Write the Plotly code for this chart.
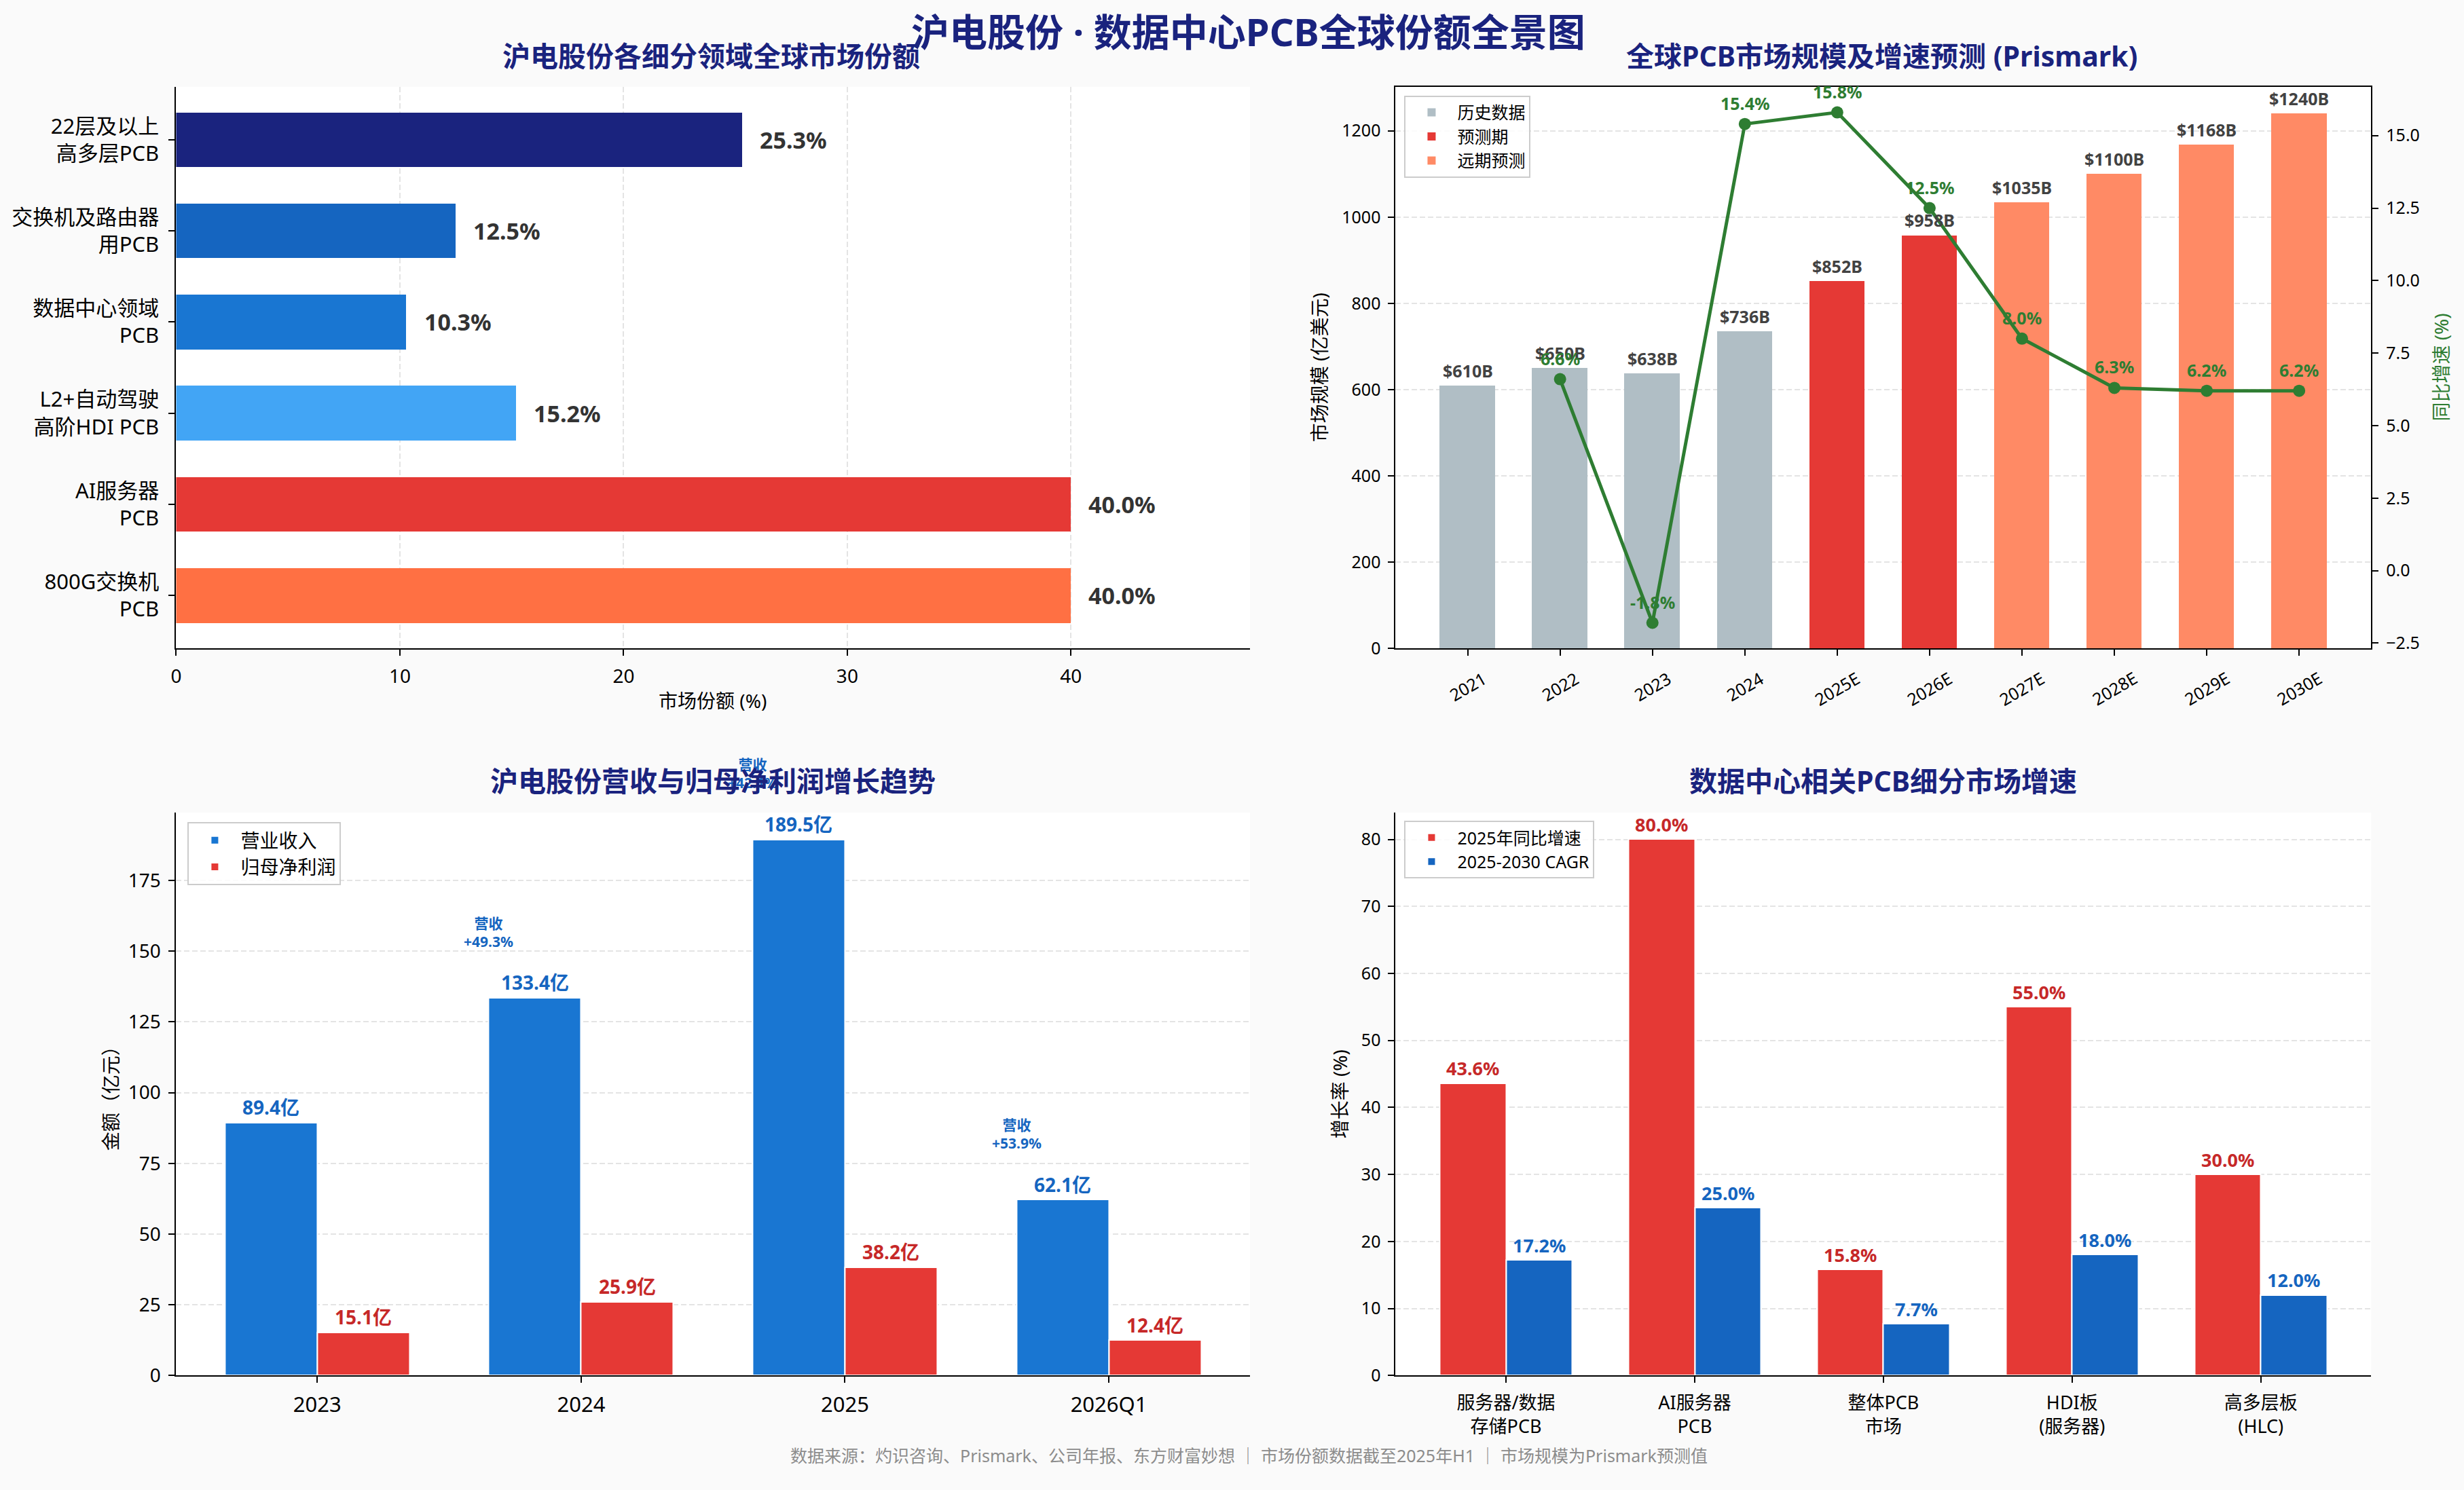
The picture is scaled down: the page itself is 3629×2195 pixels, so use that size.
import plotly.graph_objects as go

W, H = 3629, 2195
FONT = "Noto Sans, Noto Sans CJK SC, sans-serif"
NAVY = "#1A237E"
GREEN = "#2E7D32"

# ---------------- data ----------------
share_categories = ["22层及以上<br>高多层PCB", "交换机及路由器<br>用PCB", "数据中心领域<br>PCB",
                    "L2+自动驾驶<br>高阶HDI PCB", "AI服务器<br>PCB", "800G交换机<br>PCB"]
share_values = [25.3, 12.5, 10.3, 15.2, 40.0, 40.0]
share_colors = ["#1A237E", "#1565C0", "#1976D2", "#42A5F5", "#E53935", "#FF7043"]

market_years = ["2021", "2022", "2023", "2024", "2025E", "2026E", "2027E", "2028E", "2029E", "2030E"]
market_size = [610, 650, 638, 736, 852, 958, 1035, 1100, 1168, 1240]
market_yoy = [None, 6.6, -1.8, 15.4, 15.8, 12.5, 8.0, 6.3, 6.2, 6.2]
market_phase = ["历史数据"] * 4 + ["预测期"] * 2 + ["远期预测"] * 4
phase_names = ["历史数据", "预测期", "远期预测"]
phase_colors = {"历史数据": "#B0BEC5", "预测期": "#E53935", "远期预测": "#FF8A65"}

fin_periods = ["2023", "2024", "2025", "2026Q1"]
revenue = [89.4, 133.4, 189.5, 62.1]
net_profit = [15.1, 25.9, 38.2, 12.4]
revenue_growth = [None, 49.3, 42.1, 53.9]

seg_categories = ["服务器/数据<br>存储PCB", "AI服务器<br>PCB", "整体PCB<br>市场", "HDI板<br>(服务器)", "高多层板<br>(HLC)"]
seg_yoy_2025 = [43.6, 80.0, 15.8, 55.0, 30.0]
seg_cagr = [17.2, 25.0, 7.7, 18.0, 12.0]

# ---------------- helpers ----------------
def px_x(p):
    return p / W

def px_y(p):
    return 1 - p / H

X_L = [px_x(252), px_x(1837)]
X_R = [px_x(2052), px_x(3492)]
Y_T = [px_y(963), px_y(129)]
Y_B = [px_y(2043), px_y(1207)]

GRID = dict(showgrid=True, gridcolor="#E4E4E4", gridwidth=2, griddash="8px,4px")
LINE = dict(showline=True, linecolor="black", linewidth=2, ticks="outside", ticklen=9,
            tickwidth=2, tickcolor="black", zeroline=False)

fig = go.Figure()

# ---- top-left: horizontal share bars ----
fig.add_trace(go.Bar(x=share_values, y=share_categories, orientation="h", width=0.6,
                     marker=dict(color=share_colors, line=dict(width=0)),
                     xaxis="x", yaxis="y", showlegend=False))

# ---- top-right: market size bars + growth line ----
for ph in phase_names:
    xs = [y for y, p in zip(market_years, market_phase) if p == ph]
    ys = [v for v, p in zip(market_size, market_phase) if p == ph]
    fig.add_trace(go.Bar(x=xs, y=ys, name=ph, width=0.6,
                         marker=dict(color=phase_colors[ph], line=dict(width=0)),
                         xaxis="x2", yaxis="y2", legend="legend"))
g_idx = [i for i, g in enumerate(market_yoy) if g is not None]
gx = [market_years[i] for i in g_idx]
gy = [market_yoy[i] for i in g_idx]
fig.add_trace(go.Scatter(x=gx, y=gy, mode="lines+markers", line=dict(color=GREEN, width=5),
                         marker=dict(color=GREEN, size=18), xaxis="x2", yaxis="y3",
                         showlegend=False))

# ---- bottom-left: revenue / profit ----
fig.add_trace(go.Bar(x=fin_periods, y=revenue, name="营业收入", width=0.35, offset=-0.35,
                     marker=dict(color="#1976D2", line=dict(color="white", width=2)),
                     xaxis="x3", yaxis="y4", legend="legend2"))
fig.add_trace(go.Bar(x=fin_periods, y=net_profit, name="归母净利润", width=0.35, offset=0,
                     marker=dict(color="#E53935", line=dict(color="white", width=2)),
                     xaxis="x3", yaxis="y4", legend="legend2"))

# ---- bottom-right: segment growth ----
fig.add_trace(go.Bar(x=seg_categories, y=seg_yoy_2025, name="2025年同比增速", width=0.35, offset=-0.35,
                     marker=dict(color="#E53935", line=dict(color="white", width=2)),
                     xaxis="x4", yaxis="y5", legend="legend3"))
fig.add_trace(go.Bar(x=seg_categories, y=seg_cagr, name="2025-2030 CAGR", width=0.35, offset=0,
                     marker=dict(color="#1565C0", line=dict(color="white", width=2)),
                     xaxis="x4", yaxis="y5", legend="legend3"))

# ---------------- annotations ----------------
ann = []

for i, v in enumerate(share_values):
    ann.append(dict(x=v, y=i, xref="x", yref="y", text=f"<b>{v:.1f}%</b>", showarrow=False,
                    xanchor="left", yanchor="middle", xshift=24,
                    font=dict(size=34, color="#333333")))

# rotated year tick labels (centred under each tick, like the reference)
for i, yr in enumerate(market_years):
    ann.append(dict(x=i, y=0, xref="x2", yref="y2", text=yr, showarrow=False,
                    xanchor="center", yanchor="top", yshift=-24, textangle=-30,
                    font=dict(size=25, color="black")))

for i, v in enumerate(market_size):
    ann.append(dict(x=i, y=v, xref="x2", yref="y2", text=f"<b>${v}B</b>", showarrow=False,
                    xanchor="center", yanchor="middle", yshift=22,
                    font=dict(size=25, color="#424242")))
for i in g_idx:
    g = market_yoy[i]
    ann.append(dict(x=i, y=g, xref="x2", yref="y3", text=f"<b>{g:.1f}%</b>", showarrow=False,
                    xanchor="center", yanchor="middle", yshift=31,
                    font=dict(size=25, color=GREEN)))

for i, (r, p) in enumerate(zip(revenue, net_profit)):
    ann.append(dict(x=i - 0.175, y=r, xref="x3", yref="y4", text=f"<b>{r:.1f}亿</b>", showarrow=False,
                    xanchor="center", yanchor="middle", yshift=23,
                    font=dict(size=28, color="#1565C0")))
    ann.append(dict(x=i + 0.175, y=p, xref="x3", yref="y4", text=f"<b>{p:.1f}亿</b>", showarrow=False,
                    xanchor="center", yanchor="middle", yshift=23,
                    font=dict(size=28, color="#C62828")))
for i, g in enumerate(revenue_growth):
    if g is None:
        continue
    ann.append(dict(x=i - 0.35, y=revenue[i], xref="x3", yref="y4",
                    text=f"<b>营收<br>+{g:.1f}%</b>", showarrow=False,
                    xanchor="center", yanchor="middle", yshift=97,
                    font=dict(size=21, color="#1565C0")))

for i, (a, b) in enumerate(zip(seg_yoy_2025, seg_cagr)):
    ann.append(dict(x=i - 0.175, y=a, xref="x4", yref="y5", text=f"<b>{a:.1f}%</b>", showarrow=False,
                    xanchor="center", yanchor="middle", yshift=22,
                    font=dict(size=27, color="#C62828")))
    ann.append(dict(x=i + 0.175, y=b, xref="x4", yref="y5", text=f"<b>{b:.1f}%</b>", showarrow=False,
                    xanchor="center", yanchor="middle", yshift=22,
                    font=dict(size=27, color="#1565C0")))

def paper_text(text, x, y, size, color="black", angle=0, bold=False):
    t = f"<b>{text}</b>" if bold else text
    return dict(x=px_x(x), y=px_y(y), xref="paper", yref="paper", text=t, showarrow=False,
                xanchor="center", yanchor="middle", textangle=angle,
                font=dict(size=size, color=color))

ann.append(paper_text("市场份额 (%)", 1044, 1041, 28))
ann.append(paper_text("市场规模 (亿美元)", 1939, 546, 28, angle=-90))
ann.append(paper_text("同比增速 (%)", 3594, 546, 28, color=GREEN, angle=-90))
ann.append(paper_text("金额（亿元）", 155, 1625, 28, angle=-90))
ann.append(paper_text("增长率 (%)", 1969, 1625, 28, angle=-90))

ann.append(paper_text("沪电股份各细分领域全球市场份额", 1042, 83, 41, color=NAVY, bold=True))
ann.append(paper_text("全球PCB市场规模及增速预测 (Prismark)", 2770, 83, 41, color=NAVY, bold=True))
ann.append(paper_text("沪电股份营收与归母净利润增长趋势", 1044, 1160, 41, color=NAVY, bold=True))
ann.append(paper_text("数据中心相关PCB细分市场增速", 2772, 1160, 41, color=NAVY, bold=True))
ann.append(paper_text("沪电股份 · 数据中心PCB全球份额全景图", 1835, 46, 56, color=NAVY, bold=True))
ann.append(paper_text("数据来源：灼识咨询、Prismark、公司年报、东方财富妙想 ｜ 市场份额数据截至2025年H1 ｜ 市场规模为Prismark预测值",
                      1836, 2162, 25, color="#8C8C8C"))

legend_common = dict(xanchor="left", yanchor="top", bgcolor="rgba(255,255,255,0.85)",
                     bordercolor="#CCCCCC", borderwidth=2, itemwidth=66,
                     tracegroupgap=2, itemclick=False, itemdoubleclick=False)

fig.update_layout(
    width=W, height=H, autosize=False,
    margin=dict(l=0, r=0, t=0, b=0, pad=0),
    paper_bgcolor="#FAFAFA", plot_bgcolor="white",
    font=dict(family=FONT, size=25, color="black"),
    barmode="overlay", bargap=0,
    showlegend=True,
    annotations=ann,
    xaxis=dict(domain=X_L, anchor="y", range=[0, 48], dtick=10, tick0=0,
               tickfont=dict(size=28), ticklabelstandoff=6, **GRID, **LINE),
    yaxis=dict(domain=Y_T, anchor="x", type="category", categoryorder="array",
               categoryarray=share_categories, range=[len(share_categories) - 1 + 0.58, -0.58],
               showgrid=False, tickfont=dict(size=31), ticklabelstandoff=8, **LINE),
    xaxis2=dict(domain=X_R, anchor="y2", type="category", categoryorder="array",
                categoryarray=market_years, range=[-0.78, len(market_years) - 1 + 0.78],
                showticklabels=False, mirror=True, showgrid=False, **LINE),
    yaxis2=dict(domain=Y_T, anchor="x2", range=[0, 1302], dtick=200, tick0=0,
                tickfont=dict(size=25), ticklabelstandoff=6, **GRID, **LINE),
    yaxis3=dict(overlaying="y2", anchor="x2", side="right", range=[-2.68, 16.68], dtick=2.5,
                tick0=0, tickformat=".1f", showgrid=False, tickfont=dict(size=25),
                ticklabelstandoff=6, **LINE),
    xaxis3=dict(domain=X_L, anchor="y4", type="category", categoryorder="array",
                categoryarray=fin_periods, range=[-0.535, len(fin_periods) - 1 + 0.535],
                showgrid=False, tickfont=dict(size=31), ticklabelstandoff=6, **LINE),
    yaxis4=dict(domain=Y_B, anchor="x3", range=[0, 199], dtick=25, tick0=0,
                tickfont=dict(size=28), ticklabelstandoff=6, **GRID, **LINE),
    xaxis4=dict(domain=X_R, anchor="y5", type="category", categoryorder="array",
                categoryarray=seg_categories, range=[-0.585, len(seg_categories) - 1 + 0.585],
                showgrid=False, tickfont=dict(size=27), ticklabelstandoff=6, **LINE),
    yaxis5=dict(domain=Y_B, anchor="x4", range=[0, 84], dtick=10, tick0=0,
                tickfont=dict(size=25), ticklabelstandoff=6, **GRID, **LINE),
    legend=dict(x=px_x(2065), y=px_y(142), font=dict(size=25, color="black"), **legend_common),
    legend2=dict(x=px_x(269), y=px_y(1221), font=dict(size=28, color="black"), **legend_common),
    legend3=dict(x=px_x(2065), y=px_y(1219), font=dict(size=25, color="black"), **legend_common),
)

fig.write_html("out.html")
